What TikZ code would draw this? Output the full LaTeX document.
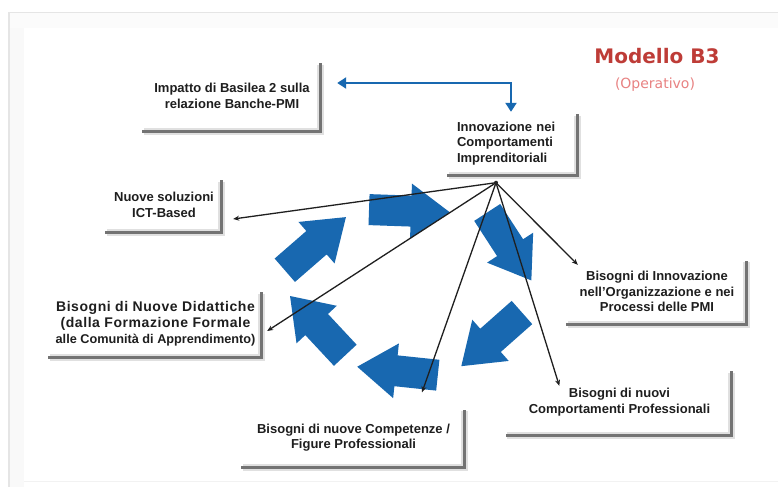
\documentclass[tikz,border=0pt]{standalone}
\usepackage{fontspec}
\setmainfont{Liberation Sans}
\newfontfamily\dejavu{DejaVu Sans}
\usetikzlibrary{arrows.meta,calc}
\definecolor{rblue}{RGB}{24,104,176}
\definecolor{mred}{RGB}{190,60,55}
\definecolor{ored}{RGB}{232,130,130}
\definecolor{txt}{RGB}{30,30,30}
\newcommand\fatarrow[3]{\fill[rblue,shift={(#1,#2)},rotate=#3]
  (-40,-15.5) -- (2,-15.5) -- (2,-27.5) -- (41,0) -- (2,27.5) -- (2,15.5) -- (-40,15.5) -- cycle;}
\newcommand\boxshade[1]{%
  \draw[shadesoft] ($(#1.north east)+(0,4)$) -- (#1.south east) -- (#1.south west);
  \draw[shadeline] ($(#1.north east)+(0,4)$) -- (#1.south east) -- (#1.south west);}
\newcommand\lsp{\addfontfeature{LetterSpace=4}}
\tikzset{
  lbl/.style={align=center, font=\fontsize{13}{15.5}\selectfont\bfseries, text=txt,
    inner sep=0pt, minimum width=#1},
  shadeline/.style={line width=3pt, draw=black!55, line cap=rect},
  shadesoft/.style={line width=7pt, draw=black!12},
  link/.style={draw=black!88, line width=1.3pt, -{Stealth[length=6pt,width=5pt]}},
  bluelink/.style={draw=rblue, line width=2.8pt,
    {Triangle[length=9pt,width=11pt]}-{Triangle[length=9pt,width=11pt]}},
}
\begin{document}
\begin{tikzpicture}[x=1pt,y=-1pt]
\useasboundingbox (0,0) rectangle (778,487);
\fill[white] (0,0) rectangle (778,487);
% faint frame
\fill[black!2.5] (9,12) rectangle (24,487);
\fill[black!1.5] (9,12) rectangle (778,28);
\draw[black!10,line width=1.5pt] (778,12.5) -- (9,12.5) -- (9,487);
\draw[black!5,line width=1pt] (24,481.5) -- (778,481.5);

% title
\node[font=\dejavu\bfseries\fontsize{20}{24}\selectfont, text=mred, inner sep=0pt] (title) at (657,56) {Modello B3};
\node[font=\dejavu\fontsize{14}{16}\selectfont, text=ored, inner sep=0pt] (sub) at (655,85) {(Operativo)};

% boxes
\node[lbl=176pt, minimum height=70pt] (imp) at (232,96) {Impatto di Basilea 2 sulla\\relazione Banche-PMI};
\node[lbl=128pt, minimum height=63pt, align=left, text width=112pt, inner xsep=8pt] (inn) at (513,143.5) {Innovazione nei\\Comportamenti\\Imprenditoriali};
\node[lbl=114pt, minimum height=54pt] (ict) at (164,205) {Nuove soluzioni\\ICT-Based};
\node[lbl=211pt, minimum height=67pt, font=\fontsize{14}{16}\selectfont\bfseries] (did) at (155.5,323.5)
  {{\lsp Bisogni di Nuove Didattiche}\\{\lsp (dalla Formazione Formale}\\{\fontsize{12.7}{16}\selectfont alle Comunità di Apprendimento)}};
\node[lbl=178pt, minimum height=66pt] (org) at (657,291.5) {Bisogni di Innovazione\\nell’Organizzazione e nei\\Processi delle PMI};
\node[lbl=224pt, minimum height=66pt] (prof) at (619.5,402) {Bisogni di nuovi\\Comportamenti Professionali};
\node[lbl=221pt, minimum height=60pt] (comp) at (353.5,437.5) {Bisogni di nuove Competenze /\\Figure Professionali};

\foreach \b in {imp,inn,ict,did,org,prof,comp} {\boxshade{\b}}

% cycle of fat arrows
\fatarrow{409}{211}{-2}
\fatarrow{509}{246}{-57}
\fatarrow{492}{339}{-138.5}
\fatarrow{398}{371}{-186}
\fatarrow{318}{326}{-227}
\fatarrow{315}{244}{41}

% blue link
\draw[bluelink] ($(imp.east)+(17,-13)$) -| ($(inn.north)+(-2,0)$);

% hub links
\coordinate (hub) at ($(inn.south)+(-17,7.5)$);
\coordinate (eict) at ($(ict.east)+(12,14)$);
\coordinate (edid) at ($(did.east)+(6,7.5)$);
\coordinate (ecomp) at ($(comp.north)+(68.5,-15)$);
\coordinate (eprof) at ($(prof.north west)+(52,17)$);
\coordinate (eorg) at ($(org.north west)+(10,6.5)$);
\foreach \e in {eict,edid,ecomp,eprof,eorg} {\draw[link] (hub) -- (\e);}
\fill[black!85] (hub) circle (2pt);
\end{tikzpicture}
\end{document}
